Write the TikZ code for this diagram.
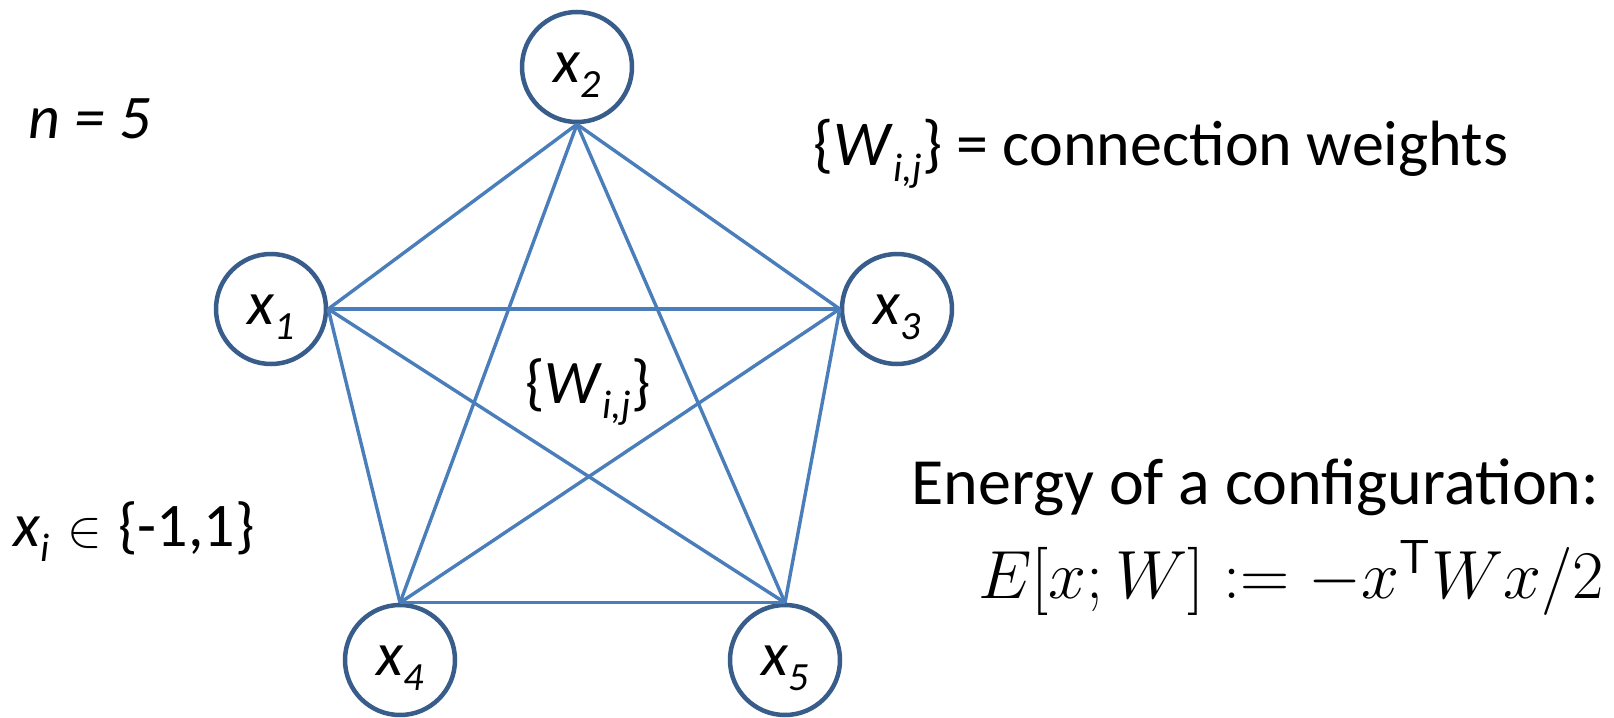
\RequirePackage{fix-cm}
\documentclass[tikz,border=0pt]{standalone}
\usepackage{fontspec}
\setmainfont{Carlito}
\definecolor{ringblue}{HTML}{385D8A}
\definecolor{lineblue}{HTML}{4A7EBB}
\newcommand\subsc[1]{\raisebox{-0.25em}{\fontsize{20}{24}\selectfont\textit{#1}}}
\begin{document}
\begin{tikzpicture}[x=0.5pt,y=-0.5pt,
  unit/.style={circle, draw=ringblue, line width=2.25pt, fill=white,
    minimum size=55pt, inner sep=0pt, text height=15pt, text depth=0pt,
    font=\fontsize{31}{37}\selectfont},
  wire/.style={draw=lineblue, line width=1.7pt},
  txt/.style={anchor=base west, inner sep=0pt, font=\fontsize{31}{37}\selectfont}]
\fill[white] (0,0) rectangle (1614,718);
\useasboundingbox (0,0) rectangle (1614,718);

\node[unit] (x1) at (271,309) {\textit{x}\subsc{1}};
\node[unit] (x2) at (577,67)  {\textit{x}\subsc{2}};
\node[unit] (x3) at (897,309) {\textit{x}\subsc{3}};
\node[unit] (x4) at (400,660) {\textit{x}\subsc{4}};
\node[unit] (x5) at (785,660) {\textit{x}\subsc{5}};

\draw[wire] (x1.east) -- (x2.south);
\draw[wire] (x1.east) -- (x3.west);
\draw[wire] (x1.east) -- (x4.north);
\draw[wire] (x1.east) -- (x5.north);
\draw[wire] (x2.south) -- (x3.west);
\draw[wire] (x2.south) -- (x4.north);
\draw[wire] (x2.south) -- (x5.north);
\draw[wire] (x3.west) -- (x4.north);
\draw[wire] (x3.west) -- (x5.north);
\draw[wire] (x4.north) -- (x5.north);

\node[txt] (nlab) at (28,138) {\textit{n = 5}};
\node[txt] (xdom) at (13,546) {\textit{x}\subsc{i}\hspace{9pt}{\fontsize{26}{30}\selectfont$\in$}\hspace{8pt}\{-1,1\}};
\node[txt, font=\fontsize{32}{38}\selectfont] (wlab) at (813,165) {\{\textit{W}\subsc{i,j}\} = connection weights};
\node[txt] (wmid) at (525,403) {\{\textit{W}\subsc{i,j}\}};
\node[txt, font=\fontsize{33}{40}\selectfont] (etext) at (911,504) {Energy of a configuration:};
\node[txt] (eform) at (978,598) {\fontsize{34.1}{41}\selectfont$E[x;W] := -x^{\mathsf{T}}Wx/2$};
\end{tikzpicture}
\end{document}
